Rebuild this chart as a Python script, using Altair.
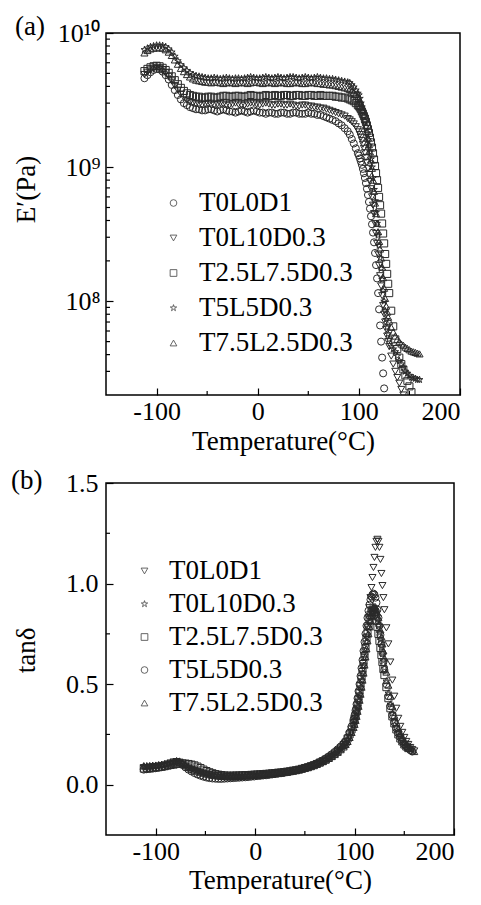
import altair as alt
import pandas as pd

FONT = "Liberation Serif"
FS_TICK = 26
FS = 27

series_names = ["T0L0D1", "T0L10D0.3", "T2.5L7.5D0.3", "T5L5D0.3", "T7.5L2.5D0.3"]

# shared temperature grid (°C)
temp_C = [
    -112, -109, -106, -103, -100, -97, -94, -91, -88, -85,
    -82, -79, -76, -73, -70, -67, -64, -61, -58, -55,
    -52, -49, -46, -43, -40, -37, -34, -31, -28, -25,
    -22, -19, -16, -13, -10, -7, -4, -1, 2, 5,
    8, 11, 14, 17, 20, 23, 26, 29, 32, 35,
    38, 41, 44, 47, 50, 53, 56, 59, 62, 65,
    68, 71, 74, 77, 80, 83, 86, 89,
    91, 93, 95, 97, 99,
    100, 101, 102, 103, 104, 105, 106, 107, 108, 109,
    110, 111, 112, 113, 114, 115, 116, 117, 118, 119,
    120, 121, 122, 123, 124, 125, 126, 127, 128, 129, 130,
    132, 134, 136, 138, 140, 142, 144, 146, 148, 150, 152, 154, 156, 158, 160,
]

# ---- panel (a): storage modulus E' in units of 1e9 Pa ----
E_T0L0D1 = [
    4.6, 4.85, 5.1, 5.3, 5.4, 5.35, 5.15, 4.85, 4.5, 4.1,
    3.75, 3.45, 3.2, 3.0, 2.9, 2.8, 2.75, 2.7, 2.7, 2.65,
    2.65, 2.7, 2.7, 2.65, 2.6, 2.65, 2.7, 2.65, 2.6, 2.6,
    2.55, 2.6, 2.65, 2.6, 2.55, 2.6, 2.65, 2.6, 2.55, 2.55,
    2.5, 2.55, 2.55, 2.5, 2.5, 2.55, 2.55, 2.5, 2.5, 2.55,
    2.55, 2.5, 2.5, 2.5, 2.55, 2.5, 2.5, 2.45, 2.45, 2.4,
    2.35, 2.3, 2.25, 2.2, 2.12, 2.05, 1.95, 1.85,
    1.75, 1.62, 1.5, 1.38, 1.27,
    1.22, 1.16, 1.1, 1.04, 0.97, 0.9, 0.83, 0.76, 0.69, 0.62,
    0.55, 0.49, 0.43, 0.375, 0.325, 0.275, 0.229, 0.186, 0.148, 0.115,
    0.087, 0.066, 0.05, 0.038, 0.029, 0.0224,
]
E_T0L10D03 = [
    4.9, 5.1, 5.3, 5.45, 5.5, 5.45, 5.3, 5.05, 4.75, 4.4,
    4.05, 3.75, 3.5, 3.3, 3.15, 3.05, 3.0, 2.95, 2.9, 2.9,
    2.95, 2.95, 2.9, 2.9, 2.95, 3.0, 2.95, 2.9, 2.9, 2.95,
    3.0, 2.95, 2.9, 2.9, 2.95, 3.0, 3.0, 2.95, 2.9, 2.95,
    3.0, 2.95, 2.9, 2.9, 2.95, 2.95, 2.9, 2.9, 2.95, 2.9,
    2.85, 2.85, 2.9, 2.9, 2.85, 2.85, 2.8, 2.8, 2.75, 2.75,
    2.7, 2.65, 2.6, 2.55, 2.5, 2.45, 2.4, 2.3,
    2.25, 2.18, 2.1, 2.0, 1.9,
    1.83, 1.75, 1.67, 1.58, 1.48, 1.38, 1.28, 1.18, 1.08, 0.98,
    0.88, 0.78, 0.69, 0.6, 0.52, 0.45, 0.38, 0.32, 0.27, 0.225,
    0.185, 0.155, 0.13, 0.11, 0.093, 0.08, 0.07, 0.062, 0.055, 0.05, 0.046,
    0.039, 0.034, 0.03, 0.027, 0.0245, 0.022, 0.02, 0.018,
]
E_T25L75D03 = [
    5.2, 5.4, 5.55, 5.65, 5.7, 5.65, 5.5, 5.3, 5.05, 4.75,
    4.45, 4.15, 3.9, 3.7, 3.55, 3.45, 3.4, 3.35, 3.35, 3.3,
    3.3, 3.35, 3.35, 3.3, 3.3, 3.35, 3.4, 3.4, 3.35, 3.35,
    3.4, 3.4, 3.35, 3.35, 3.4, 3.45, 3.4, 3.4, 3.35, 3.4,
    3.45, 3.4, 3.4, 3.45, 3.4, 3.4, 3.45, 3.45, 3.4, 3.4,
    3.45, 3.45, 3.4, 3.4, 3.45, 3.45, 3.4, 3.4, 3.45, 3.4,
    3.4, 3.4, 3.4, 3.35, 3.35, 3.3, 3.3, 3.25,
    3.2, 3.15, 3.1, 3.0, 2.9,
    2.85, 2.78, 2.7, 2.6, 2.5, 2.4, 2.3, 2.18, 2.05, 1.92,
    1.8, 1.66, 1.53, 1.4, 1.27, 1.14, 1.02, 0.9, 0.8, 0.7,
    0.6, 0.52, 0.45, 0.38, 0.32, 0.27, 0.225, 0.19, 0.16, 0.135, 0.115,
    0.085, 0.065, 0.052, 0.044, 0.038, 0.034, 0.031, 0.028, 0.0255, 0.0232, 0.021,
]
E_T5L5D03 = [
    7.5, 7.7, 7.9, 8.0, 8.1, 8.1, 8.05, 7.9, 7.6, 7.2,
    6.7, 6.2, 5.8, 5.5, 5.25, 5.05, 4.9, 4.8, 4.75, 4.7,
    4.65, 4.6, 4.6, 4.65, 4.6, 4.55, 4.6, 4.65, 4.6, 4.55,
    4.6, 4.6, 4.55, 4.6, 4.65, 4.7, 4.65, 4.6, 4.6, 4.65,
    4.7, 4.65, 4.6, 4.65, 4.7, 4.65, 4.6, 4.65, 4.7, 4.7,
    4.65, 4.6, 4.65, 4.7, 4.65, 4.6, 4.65, 4.7, 4.65, 4.6,
    4.6, 4.55, 4.55, 4.5, 4.45, 4.4, 4.35, 4.3,
    4.25, 4.1, 3.95, 3.75, 3.55,
    3.45, 3.25, 3.0, 2.8, 2.6, 2.4, 2.2, 2.0, 1.8, 1.6,
    1.45, 1.3, 1.15, 1.0, 0.83, 0.68, 0.56, 0.46, 0.38, 0.31,
    0.26, 0.21, 0.175, 0.145, 0.12, 0.1, 0.085, 0.073, 0.064, 0.057, 0.052,
    0.046, 0.044, 0.042, 0.039, 0.036, 0.034, 0.032, 0.03, 0.029, 0.028, 0.027, 0.0268, 0.0265, 0.026, 0.026,
]
E_T75L25D03 = [
    7.1, 7.4, 7.6, 7.7, 7.75, 7.75, 7.7, 7.5, 7.2, 6.8,
    6.3, 5.85, 5.45, 5.15, 4.9, 4.7, 4.55, 4.45, 4.4, 4.35,
    4.3, 4.3, 4.25, 4.3, 4.3, 4.25, 4.2, 4.25, 4.3, 4.25,
    4.2, 4.25, 4.3, 4.25, 4.2, 4.25, 4.3, 4.3, 4.25, 4.2,
    4.25, 4.3, 4.25, 4.2, 4.25, 4.3, 4.25, 4.2, 4.2, 4.25,
    4.3, 4.25, 4.2, 4.2, 4.25, 4.3, 4.25, 4.2, 4.2, 4.15,
    4.15, 4.1, 4.1, 4.05, 4.0, 3.95, 3.9, 3.85,
    3.8, 3.72, 3.62, 3.5, 3.35,
    3.25, 3.12, 2.98, 2.82, 2.65, 2.45, 2.25, 2.05, 1.85, 1.65,
    1.47, 1.3, 1.13, 0.98, 0.8, 0.66, 0.54, 0.45, 0.38, 0.33,
    0.28, 0.245, 0.21, 0.18, 0.15, 0.125, 0.105, 0.092, 0.083, 0.076, 0.071,
    0.064, 0.059, 0.055, 0.052, 0.05, 0.048, 0.047, 0.0455, 0.0445, 0.0435, 0.0425, 0.042, 0.0415, 0.041, 0.0405,
]

# ---- panel (b): tan delta ----
tan_T0L0D1 = [
    0.085, 0.083, 0.086, 0.088, 0.09, 0.092, 0.094, 0.098, 0.103, 0.108,
    0.113, 0.115, 0.112, 0.102, 0.092, 0.082, 0.076, 0.071, 0.066, 0.061,
    0.056, 0.053, 0.05, 0.048, 0.046, 0.045, 0.043, 0.042, 0.041, 0.041,
    0.042, 0.042, 0.043, 0.043, 0.044, 0.045, 0.046, 0.047, 0.048, 0.049,
    0.05, 0.051, 0.053, 0.054, 0.056, 0.057, 0.059, 0.061, 0.063, 0.065,
    0.068, 0.071, 0.074, 0.078, 0.082, 0.086, 0.091, 0.096, 0.102, 0.108,
    0.115, 0.123, 0.132, 0.141, 0.152, 0.164, 0.177, 0.19,
    0.2, 0.215, 0.235, 0.26, 0.29,
    0.31, 0.33, 0.355, 0.38, 0.41, 0.44, 0.475, 0.51, 0.55, 0.59,
    0.635, 0.68, 0.73, 0.78, 0.83, 0.88, 0.93, 0.98, 1.03, 1.08,
    1.13, 1.18, 1.21, 1.22, 1.21, 1.18, 1.12, 1.05, 0.99, 0.93, 0.87,
    0.78, 0.7, 0.61, 0.52, 0.44, 0.38, 0.33, 0.29, 0.26, 0.235, 0.215, 0.2, 0.185, 0.175, 0.168,
]
tan_T0L10D03 = [
    0.09, 0.092, 0.09, 0.093, 0.095, 0.096, 0.098, 0.1, 0.104, 0.11,
    0.115, 0.118, 0.116, 0.108, 0.098, 0.088, 0.082, 0.077, 0.072, 0.066,
    0.06, 0.056, 0.053, 0.05, 0.048, 0.046, 0.045, 0.044, 0.043, 0.043,
    0.043, 0.044, 0.044, 0.045, 0.046, 0.047, 0.048, 0.049, 0.05, 0.051,
    0.052, 0.053, 0.055, 0.056, 0.058, 0.059, 0.061, 0.063, 0.065, 0.067,
    0.07, 0.073, 0.076, 0.08, 0.084, 0.088, 0.093, 0.098, 0.104, 0.11,
    0.117, 0.125, 0.134, 0.144, 0.155, 0.167, 0.18, 0.194,
    0.205, 0.225, 0.245, 0.27, 0.3,
    0.32, 0.34, 0.365, 0.39, 0.42, 0.45, 0.485, 0.52, 0.555, 0.59,
    0.63, 0.67, 0.71, 0.745, 0.78, 0.81, 0.835, 0.855, 0.87, 0.875,
    0.875, 0.865, 0.845, 0.82, 0.79, 0.755, 0.72, 0.685, 0.65, 0.615, 0.58,
    0.515, 0.455, 0.4, 0.355, 0.315, 0.285, 0.26, 0.24, 0.22, 0.205, 0.195, 0.185, 0.178,
]
tan_T25L75D03 = [
    0.08, 0.082, 0.084, 0.085, 0.087, 0.088, 0.09, 0.092, 0.095, 0.098,
    0.1, 0.103, 0.105, 0.106, 0.105, 0.103, 0.1, 0.096, 0.09, 0.083,
    0.075, 0.068, 0.062, 0.057, 0.053, 0.05, 0.048, 0.046, 0.045, 0.045,
    0.045, 0.046, 0.046, 0.047, 0.048, 0.048, 0.049, 0.05, 0.051, 0.052,
    0.053, 0.054, 0.055, 0.057, 0.058, 0.06, 0.061, 0.063, 0.065, 0.067,
    0.07, 0.072, 0.075, 0.079, 0.083, 0.087, 0.092, 0.097, 0.103, 0.11,
    0.117, 0.125, 0.134, 0.144, 0.155, 0.167, 0.181, 0.197,
    0.21, 0.23, 0.25, 0.275, 0.305,
    0.325, 0.345, 0.37, 0.395, 0.425, 0.455, 0.49, 0.525, 0.56, 0.6,
    0.64, 0.68, 0.72, 0.755, 0.79, 0.82, 0.845, 0.86, 0.87, 0.87,
    0.86, 0.84, 0.815, 0.785, 0.75, 0.715, 0.68, 0.645, 0.61, 0.575, 0.545,
    0.485, 0.43, 0.38, 0.34, 0.305, 0.275, 0.25, 0.23, 0.215, 0.2, 0.19, 0.182,
]
tan_T5L5D03 = [
    0.075, 0.077, 0.078, 0.08, 0.082, 0.084, 0.087, 0.09, 0.095, 0.1,
    0.106, 0.11, 0.108, 0.098, 0.086, 0.075, 0.066, 0.058, 0.051, 0.045,
    0.04, 0.036, 0.033, 0.031, 0.03, 0.029, 0.029, 0.03, 0.031, 0.032,
    0.033, 0.034, 0.035, 0.036, 0.037, 0.038, 0.04, 0.041, 0.043, 0.044,
    0.046, 0.047, 0.049, 0.051, 0.053, 0.055, 0.057, 0.059, 0.062, 0.065,
    0.068, 0.071, 0.075, 0.079, 0.083, 0.088, 0.093, 0.099, 0.106, 0.113,
    0.121, 0.13, 0.14, 0.151, 0.163, 0.176, 0.19, 0.205,
    0.215, 0.235, 0.26, 0.29, 0.325,
    0.345, 0.37, 0.4, 0.43, 0.465, 0.5, 0.54, 0.58, 0.62, 0.665,
    0.71, 0.75, 0.79, 0.83, 0.865, 0.895, 0.92, 0.935, 0.945, 0.95,
    0.945, 0.93, 0.905, 0.87, 0.83, 0.79, 0.745, 0.7, 0.655, 0.61, 0.57,
    0.5, 0.44, 0.39, 0.345, 0.31, 0.28, 0.255, 0.235, 0.215, 0.2, 0.19, 0.18, 0.172, 0.165,
]
tan_T75L25D03 = [
    0.095, 0.094, 0.096, 0.097, 0.098, 0.1, 0.102, 0.105, 0.108, 0.112,
    0.116, 0.117, 0.113, 0.104, 0.094, 0.085, 0.078, 0.072, 0.067, 0.062,
    0.057, 0.053, 0.05, 0.047, 0.045, 0.043, 0.041, 0.04, 0.039, 0.039,
    0.04, 0.04, 0.041, 0.042, 0.043, 0.044, 0.045, 0.046, 0.047, 0.048,
    0.049, 0.05, 0.052, 0.053, 0.055, 0.057, 0.059, 0.061, 0.063, 0.066,
    0.069, 0.072, 0.075, 0.079, 0.083, 0.087, 0.092, 0.097, 0.103, 0.109,
    0.116, 0.123, 0.131, 0.14, 0.15, 0.161, 0.174, 0.188,
    0.2, 0.215, 0.235, 0.26, 0.285,
    0.3, 0.32, 0.34, 0.365, 0.39, 0.42, 0.45, 0.485, 0.52, 0.555,
    0.595, 0.635, 0.675, 0.715, 0.75, 0.785, 0.815, 0.84, 0.86, 0.875,
    0.885, 0.885, 0.875, 0.855, 0.83, 0.8, 0.77, 0.735, 0.7, 0.665, 0.63,
    0.56, 0.495, 0.44, 0.39, 0.345, 0.31, 0.28, 0.255, 0.235, 0.215, 0.2, 0.19, 0.18, 0.172, 0.165,
]

# axis tick values
x_major = [-100, 0, 100, 200]
x_minor = [-50, 50, 150]
a_y_major = [1e8, 1e9, 1e10]
a_y_minor = [3e7, 4e7, 5e7, 6e7, 7e7, 8e7, 9e7,
             2e8, 3e8, 4e8, 5e8, 6e8, 7e8, 8e8, 9e8,
             2e9, 3e9, 4e9, 5e9, 6e9, 7e9, 8e9, 9e9]
b_y_major = [0.0, 0.5, 1.0, 1.5]
b_y_minor = [0.25, 0.75, 1.25]

STAR = ("M0,-1L0.2245,-0.309L0.951,-0.309L0.363,0.118L0.588,0.809L0,0.382"
        "L-0.588,0.809L-0.363,0.118L-0.951,-0.309L-0.2245,-0.309Z")
shapes_a = ["circle", "triangle-down", "square", STAR, "triangle-up"]
shapes_b = ["triangle-down", STAR, "square", "circle", "triangle-up"]

E_lists = [E_T0L0D1, E_T0L10D03, E_T25L75D03, E_T5L5D03, E_T75L25D03]
tan_lists = [tan_T0L0D1, tan_T0L10D03, tan_T25L75D03, tan_T5L5D03, tan_T75L25D03]

df_a = pd.DataFrame([{"series": n, "T": t, "E": v * 1e9}
                     for n, vals in zip(series_names, E_lists)
                     for t, v in zip(temp_C, vals)])
df_b = pd.DataFrame([{"series": n, "T": t, "tan": v}
                     for n, vals in zip(series_names, tan_lists)
                     for t, v in zip(temp_C, vals)])

W_A, H_A = 354, 362
W_B, H_B = 348, 352
MAJ, MIN = 7, 4
MARK = "#2a2a2a"

def axis_kw():
    return dict(domain=False, grid=False, ticks=True, tickSize=MAJ, tickColor="black",
                tickWidth=1.2, offset=-MAJ, labelFont=FONT, labelFontSize=FS_TICK,
                labelColor="black", titleFont=FONT, titleFontSize=FS,
                titleFontWeight="normal", titleColor="black", labelOverlap=False)

x_scale_a = alt.Scale(domain=[-150, 200], nice=False, zero=False)
x_scale_b = alt.Scale(domain=[-150, 200], nice=False, zero=False)
y_scale_a = alt.Scale(type="log", domain=[2e7, 1e10], nice=False)
y_scale_b = alt.Scale(domain=[-0.25, 1.5], nice=False, zero=False)

x_axis_a = alt.Axis(values=x_major, labelExpr="'' + datum.value", title="Temperature(°C)",
                    labelPadding=3, titlePadding=4, **axis_kw())
x_axis_b = alt.Axis(values=x_major, labelExpr="'' + datum.value", title="Temperature(°C)",
                    labelPadding=3, titlePadding=3, **axis_kw())
y_axis_a = alt.Axis(values=a_y_major,
                    labelExpr="datum.value > 5e9 ? '10¹⁰' : (datum.value > 5e8 ? '10⁹' : '10⁸')",
                    title="E′(Pa)", labelPadding=6, titleX=-73, titleY=156,
                    titleAlign="center", titleBaseline="bottom", titleAngle=270, **axis_kw())
y_axis_b = alt.Axis(values=b_y_major, format=".1f", title="tanδ", labelPadding=8,
                    titleX=-73, titleY=167,
                    titleAlign="center", titleBaseline="bottom", titleAngle=270, **axis_kw())

def legend(x, y, rowpad, off):
    return alt.Legend(title=None, orient="none", legendX=x, legendY=y, padding=0,
                      labelFont=FONT, labelFontSize=FS, labelColor="black",
                      rowPadding=rowpad, labelOffset=off, symbolSize=45,
                      symbolStrokeWidth=0.9, symbolStrokeColor="#555555",
                      symbolFillColor="transparent")

pts_a = alt.Chart(df_a).mark_point(filled=False, size=50, strokeWidth=1.0, opacity=1,
                                   clip=True).encode(
    x=alt.X("T:Q", scale=x_scale_a, axis=x_axis_a),
    y=alt.Y("E:Q", scale=y_scale_a, axis=y_axis_a),
    shape=alt.Shape("series:N", scale=alt.Scale(domain=series_names, range=shapes_a),
                    legend=legend(54, 156.5, 7, 12), sort=series_names),
    color=alt.value(MARK),
)
minx_a = alt.Chart(pd.DataFrame({"v": x_minor})).mark_rule(color="black", strokeWidth=1.2).encode(
    x=alt.X("v:Q", scale=x_scale_a, axis=x_axis_a), y=alt.value(H_A), y2=alt.value(H_A - MIN))
miny_a = alt.Chart(pd.DataFrame({"v": a_y_minor})).mark_rule(color="black", strokeWidth=1.2).encode(
    y=alt.Y("v:Q", scale=y_scale_a, axis=y_axis_a), x=alt.value(0), x2=alt.value(MIN))
lab_a = alt.Chart(pd.DataFrame({"lab": ["(a)"]})).mark_text(
    font=FONT, fontSize=FS, align="left", baseline="middle", color="black").encode(
    text="lab:N", x=alt.value(-91), y=alt.value(-6))
panel_a = alt.layer(pts_a, minx_a, miny_a, lab_a).properties(width=W_A, height=H_A)

pts_b = alt.Chart(df_b).mark_point(filled=False, size=50, strokeWidth=1.0, opacity=1,
                                   clip=True).encode(
    x=alt.X("T:Q", scale=x_scale_b, axis=x_axis_b),
    y=alt.Y("tan:Q", scale=y_scale_b, axis=y_axis_b),
    shape=alt.Shape("series:N", scale=alt.Scale(domain=series_names, range=shapes_b),
                    legend=legend(25, 74.5, 5, 11), sort=series_names),
    color=alt.value(MARK),
)
minx_b = alt.Chart(pd.DataFrame({"v": x_minor})).mark_rule(color="black", strokeWidth=1.2).encode(
    x=alt.X("v:Q", scale=x_scale_b, axis=x_axis_b), y=alt.value(H_B), y2=alt.value(H_B - MIN))
miny_b = alt.Chart(pd.DataFrame({"v": b_y_minor})).mark_rule(color="black", strokeWidth=1.2).encode(
    y=alt.Y("v:Q", scale=y_scale_b, axis=y_axis_b), x=alt.value(0), x2=alt.value(MIN))
lab_b = alt.Chart(pd.DataFrame({"lab": ["(b)"]})).mark_text(
    font=FONT, fontSize=FS, align="left", baseline="middle", color="black").encode(
    text="lab:N", x=alt.value(-95), y=alt.value(-2))
panel_b = alt.layer(pts_b, minx_b, miny_b, lab_b).properties(width=W_B, height=H_B)

chart = alt.vconcat(panel_a, panel_b, spacing=11).resolve_scale(
    shape="independent", x="independent", y="independent").resolve_legend(
    shape="independent").properties(
    padding={"left": 2, "top": 4, "right": 2, "bottom": 0}
).configure(font=FONT).configure_view(stroke="black", strokeWidth=1.5)

chart.save("out.html", embed_options={"renderer": "svg", "actions": False})
